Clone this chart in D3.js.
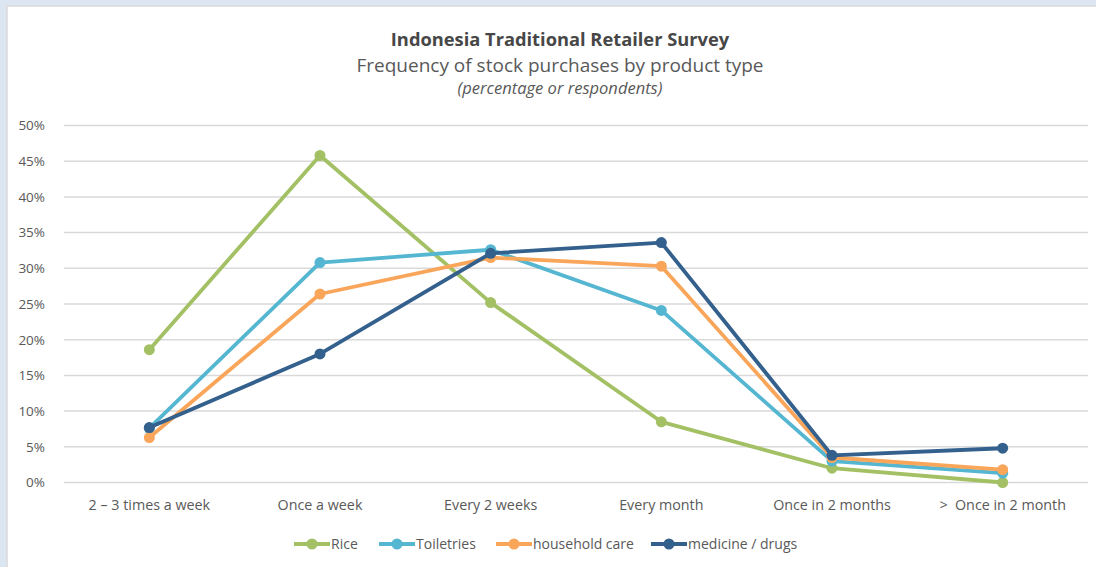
<!DOCTYPE html>
<html>
<head>
<meta charset="utf-8">
<script src="https://cdn.jsdelivr.net/npm/d3@7"></script>
<style>
  html, body { margin: 0; padding: 0; background: #dce6f2; }
  body { width: 1096px; height: 567px; overflow: hidden; }
  text { font-family: "Open Sans", "Noto Sans", sans-serif; fill: #595959; }
</style>
</head>
<body>
<div id="chart"></div>
<script>
// data
const categories = ["2 \u2013 3 times a week", "Once a week", "Every 2 weeks", "Every month", "Once in 2 months", ">\u00a0 Once in 2 month"];
const seriesNames = ["Rice", "Toiletries", "household care", "medicine / drugs"];
const seriesColors = ["#a3c164", "#55b6d1", "#f9a55a", "#33608c"];
const rice = [18.6, 45.8, 25.2, 8.5, 2.0, 0.0];
const toiletries = [7.6, 30.8, 32.6, 24.1, 3.0, 1.3];
const householdCare = [6.3, 26.4, 31.5, 30.3, 3.5, 1.8];
const medicine = [7.7, 18.0, 32.1, 33.6, 3.8, 4.8];
const yTicks = [0, 5, 10, 15, 20, 25, 30, 35, 40, 45, 50];

const allSeries = [rice, toiletries, householdCare, medicine];

const width = 1096, height = 567;
const svg = d3.select("#chart").append("svg")
    .attr("width", width)
    .attr("height", height);

// white panel with grey edge
svg.append("rect")
    .attr("x", 7).attr("y", 6)
    .attr("width", width).attr("height", height)
    .attr("fill", "#ffffff")
    .attr("stroke", "#d9d9d9")
    .attr("stroke-width", 1.5);

// titles
svg.append("text").attr("x", 560).attr("y", 46)
    .attr("text-anchor", "middle")
    .style("font-size", "18.3px").style("font-weight", "bold")
    .style("fill", "#474747")
    .text("Indonesia Traditional Retailer Survey");
svg.append("text").attr("x", 560).attr("y", 72)
    .attr("text-anchor", "middle")
    .style("font-size", "19px")
    .text("Frequency of stock purchases by product type");
svg.append("text").attr("x", 560).attr("y", 94)
    .attr("text-anchor", "middle")
    .style("font-size", "16.5px").style("font-style", "italic")
    .text("(percentage or respondents)");

const plotLeft = 64, plotRight = 1088, plotTop = 125.5, plotBottom = 482.5;

const x = d3.scaleBand().domain(categories).range([plotLeft, plotRight]);
const y = d3.scaleLinear().domain([0, 50]).range([plotBottom, plotTop]);

// gridlines
svg.append("g").selectAll("line")
    .data(yTicks)
    .enter().append("line")
    .attr("x1", plotLeft).attr("x2", plotRight)
    .attr("y1", d => y(d)).attr("y2", d => y(d))
    .attr("stroke", "#d9d9d9")
    .attr("stroke-width", 1.5);

// y axis labels
const yAxis = svg.append("g")
    .attr("transform", `translate(${plotLeft - 16},0)`)
    .call(d3.axisLeft(y).tickValues(yTicks).tickSize(0).tickFormat(d => d + "%"));
yAxis.select(".domain").remove();
yAxis.selectAll("text").style("font-size", "13.5px").attr("fill", "#595959")
    .style("font-family", "'Open Sans', sans-serif");

// x axis labels
const xAxis = svg.append("g")
    .attr("transform", `translate(0,${plotBottom + 14})`)
    .call(d3.axisBottom(x).tickSize(0));
xAxis.select(".domain").remove();
xAxis.selectAll("text").style("font-size", "14.3px").attr("fill", "#595959")
    .style("font-family", "'Open Sans', sans-serif");

const cx = d => x(d) + x.bandwidth() / 2;

const line = d3.line()
    .x((d, i) => cx(categories[i]))
    .y(d => y(d));

allSeries.forEach((vals, si) => {
    const g = svg.append("g");
    g.append("path")
        .datum(vals)
        .attr("d", line)
        .attr("fill", "none")
        .attr("stroke", seriesColors[si])
        .attr("stroke-width", 3.8)
        .attr("stroke-linejoin", "round");
    g.selectAll("circle")
        .data(vals)
        .enter().append("circle")
        .attr("cx", (d, i) => cx(categories[i]))
        .attr("cy", d => y(d))
        .attr("r", 5.5)
        .attr("fill", seriesColors[si]);
});

// legend
const legendX = [294, 379, 496, 651];
const legend = svg.append("g").attr("transform", "translate(0,544)");
seriesNames.forEach((name, i) => {
    const lg = legend.append("g").attr("transform", `translate(${legendX[i]},0)`);
    lg.append("line").attr("x1", 0).attr("x2", 36)
        .attr("stroke", seriesColors[i]).attr("stroke-width", 3.8);
    lg.append("circle").attr("cx", 18).attr("r", 5.5).attr("fill", seriesColors[i]);
    lg.append("text").attr("x", 37).attr("y", 5)
        .style("font-size", "14px")
        .text(name);
});
</script>
</body>
</html>
